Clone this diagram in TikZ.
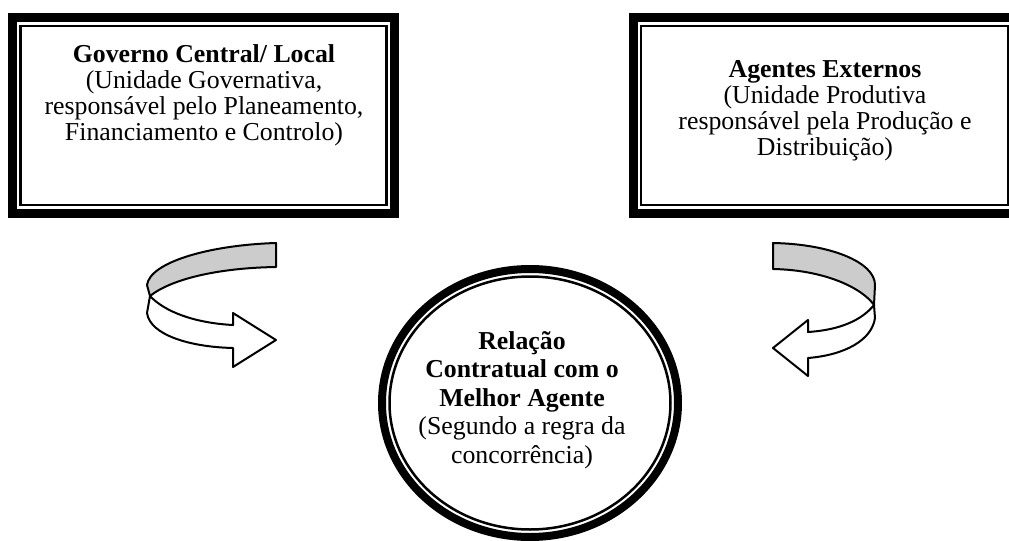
\documentclass[tikz,border=0pt]{standalone}
\usepackage{fontspec}
\setmainfont{Liberation Serif}
\begin{document}
\begin{tikzpicture}[x=0.5pt, y=-0.5pt,
        boxtext/.style={align=center, inner sep=0pt, anchor=north, font=\fontsize{12.9}{13}\selectfont},
        ovaltext/.style={align=center, inner sep=0pt, anchor=north, font=\fontsize{12.9}{14.25}\selectfont},
        thickline/.style={line width=4.5pt},
        thinline/.style={line width=1.25pt},
        ribbon/.style={draw, line width=1pt, line join=round}]
            \useasboundingbox (0, 0) rectangle (1009, 541);
            \clip (0, 0) rectangle (1009, 541);
            \coordinate (c) at (530, 403);
            \draw[thickline](12.5, 17.5) rectangle (394.5, 213.5);
            \draw[thinline](20.5, 26) rectangle (386.5, 205);
            \draw[thickline](633, 17.5) rectangle (1030, 213.5);
            \draw[thinline](641, 26) rectangle (1008, 205);
            \draw[line width=4pt](c) ellipse [x radius=148, y radius=134];
            \draw[thinline](c) ellipse [x radius=140.5, y radius=126.5];
            \node[boxtext](gov) at (204, 44){\textbf{Governo Central/ Local}\\(Unidade Governativa,\\responsável pelo Planeamento,\\Financiamento e Controlo)};
            \node[boxtext](agt) at (825, 60){\textbf{Agentes Externos}\\(Unidade Produtiva\\responsável pela Produção e\\Distribuição)};
            \node[ovaltext](rel) at (522, 331){\textbf{Relação}\\\textbf{Contratual com o}\\\textbf{Melhor Agente}\\(Segundo a regra da\\concorrência)};
            \filldraw[ribbon, fill=black!20](276, 243) .. controls (210, 245) and (150, 262) .. (147, 285)
                -- (150, 296) .. controls (170, 280) and (215, 268) .. (276, 267) -- cycle;
            \filldraw[ribbon, fill=white](150, 296) .. controls (165, 312) and (195, 323) .. (233, 325)
                -- (233, 313) -- (276, 340) -- (233, 367) -- (233, 348)
                .. controls (190, 347) and (150, 335) .. (147, 313) -- cycle;
            \filldraw[ribbon, fill=black!20](773, 243) .. controls (830, 244) and (875, 262) .. (875, 285)
                -- (874, 305) .. controls (862, 288) and (825, 270) .. (773, 269) -- cycle;
            \filldraw[ribbon, fill=white](874, 305) .. controls (862, 320) and (840, 330) .. (808, 332)
                -- (808, 320) -- (773, 348) -- (808, 376) -- (808, 358)
                .. controls (845, 355) and (872, 340) .. (875, 318) -- cycle;
        \end{tikzpicture}
\end{document}
